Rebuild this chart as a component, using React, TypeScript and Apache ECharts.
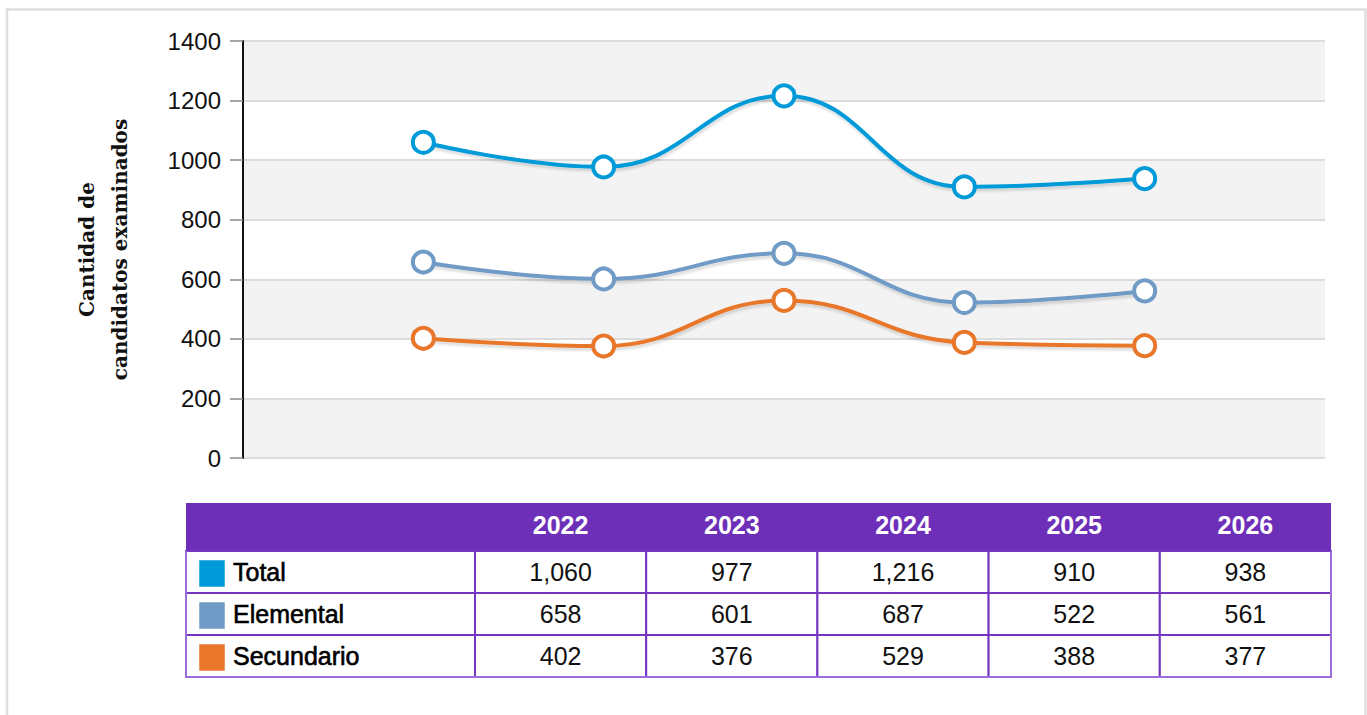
import React, { useEffect, useRef } from "react";
import * as echarts from "echarts";

const years = ["2022", "2023", "2024", "2025", "2026"];
const seriesNames = ["Total", "Elemental", "Secundario"];
const totalValues = [1060, 977, 1216, 910, 938];
const elementalValues = [658, 601, 687, 522, 561];
const secundarioValues = [402, 376, 529, 388, 377];
const seriesColors = ["#009ad9", "#6f9bc6", "#e8772b"];
const yTicks = [0, 200, 400, 600, 800, 1000, 1200, 1400];
const yTitle = "Cantidad de\ncandidatos examinados";

const allValues = [totalValues, elementalValues, secundarioValues];

const FONT = "'Liberation Sans', Arial, sans-serif";
const PURPLE = "#6e2fb8";
const BORDER = "#7435c0";

function buildTable(): any[] {
  const x0 = 186;
  const firstW = 289;
  const colW = (1331 - 475) / years.length;
  const headerY = 503;
  const headerH = 48;
  const rowH = 42;
  const totalW = firstW + colW * years.length;
  const els: any[] = [];
  els.push({
    type: "rect",
    shape: { x: x0, y: headerY, width: totalW, height: headerH },
    style: { fill: PURPLE },
    silent: true,
  });
  years.forEach((y, i) => {
    els.push({
      type: "text",
      x: x0 + firstW + colW * i + colW / 2,
      y: headerY + headerH / 2 - 2,
      style: {
        text: y,
        fill: "#ffffff",
        font: `bold 25px ${FONT}`,
        align: "center",
        verticalAlign: "middle",
      },
      silent: true,
    });
  });
  const bodyTop = headerY + headerH;
  seriesNames.forEach((name, r) => {
    const yTop = bodyTop + rowH * r;
    els.push({
      type: "rect",
      shape: { x: x0, y: yTop, width: firstW, height: rowH },
      style: { fill: "#fff", stroke: BORDER, lineWidth: 2 },
      silent: true,
    });
    years.forEach((_, c) => {
      els.push({
        type: "rect",
        shape: { x: x0 + firstW + colW * c, y: yTop, width: colW, height: rowH },
        style: { fill: "#fff", stroke: BORDER, lineWidth: 2 },
        silent: true,
      });
      els.push({
        type: "text",
        x: x0 + firstW + colW * c + colW / 2,
        y: yTop + rowH / 2,
        style: {
          text: allValues[r][c].toLocaleString("en-US"),
          fill: "#111",
          font: `25px ${FONT}`,
          align: "center",
          verticalAlign: "middle",
        },
        silent: true,
      });
    });
    els.push({
      type: "rect",
      shape: { x: x0 + 13, y: yTop + 9, width: 26, height: 27 },
      style: { fill: seriesColors[r], stroke: "rgba(255,255,255,0.5)", lineWidth: 1 },
      silent: true,
    });
    els.push({
      type: "text",
      x: x0 + 47,
      y: yTop + rowH / 2,
      style: {
        text: name,
        fill: "#000",
        font: `25px ${FONT}`,
        align: "left",
        verticalAlign: "middle",
        stroke: "#000",
        lineWidth: 0.6,
      },
      silent: true,
    });
  });
  const bottomY = bodyTop + rowH * seriesNames.length;
  els.push({
    type: "polyline",
    shape: { points: [[x0, bodyTop], [x0, bottomY], [x0 + totalW, bottomY], [x0 + totalW, bodyTop]] },
    style: { fill: "none", stroke: "#9a6ed6", lineWidth: 2 },
    silent: true,
  });
  return els;
}

export default function App() {
  const ref = useRef<HTMLDivElement>(null);
  useEffect(() => {
    if (!ref.current) return;
    const chart = echarts.init(ref.current, null, { renderer: "svg" });
    const mkSeries = (i: number) => ({
      name: seriesNames[i],
      type: "line",
      smooth: 0.45,
      data: years.map((_, k) => [k + 1, allValues[i][k]]),
      symbol: "circle",
      symbolSize: 21,
      lineStyle: {
        color: seriesColors[i],
        width: 4,
        shadowColor: "rgba(0,0,0,0.13)",
        shadowBlur: 2,
        shadowOffsetX: 1,
        shadowOffsetY: 3,
      },
      itemStyle: {
        color: "#ffffff",
        borderColor: seriesColors[i],
        borderWidth: 4,
      },
      z: 10 - i,
    });
    chart.setOption({
      animation: false,
      textStyle: { fontFamily: FONT },
      grid: { left: 243, right: 42, top: 41, bottom: 257 },
      xAxis: { type: "value", min: 0, max: years.length + 1, show: false },
      yAxis: {
        type: "value",
        min: yTicks[0],
        max: yTicks[yTicks.length - 1],
        interval: yTicks[1] - yTicks[0],
        name: yTitle,
        nameLocation: "middle",
        nameRotate: 90,
        nameGap: 107,
        nameTextStyle: {
          fontFamily: "'DejaVu Serif', serif",
          fontWeight: "bold",
          fontSize: 20,
          lineHeight: 33,
          color: "#111",
        },
        axisLine: { show: true, lineStyle: { color: "#111", width: 2 } },
        axisTick: { show: true, length: 13, lineStyle: { color: "#888", width: 1.5 } },
        axisLabel: {
          fontSize: 24,
          color: "#111",
          margin: 22,
          fontFamily: FONT,
          formatter: (v: number) => String(v),
        },
        splitLine: { show: true, lineStyle: { color: "#dcdcdc", width: 2 } },
        splitArea: { show: true, areaStyle: { color: ["#f3f3f3", "#ffffff"] } },
      },
      series: [mkSeries(0), mkSeries(1), mkSeries(2)],
      graphic: [
        {
          type: "rect",
          shape: { x: 7, y: 9.5, width: 1358.5, height: 800 },
          style: { fill: "none", stroke: "#dedede", lineWidth: 2.5 },
          silent: true,
          z: -10,
        },
        ...buildTable(),
      ],
    });
    return () => chart.dispose();
  }, []);
  return (
    <div
      ref={ref}
      style={{ position: "fixed", left: 0, top: 0, width: 1367, height: 715, background: "#fff" }}
    />
  );
}
